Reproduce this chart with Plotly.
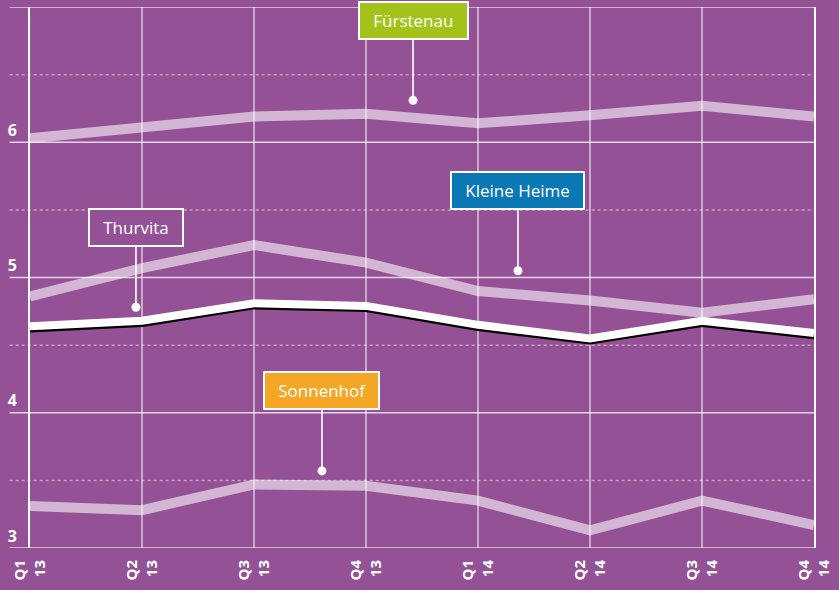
import plotly.graph_objects as go

quarters = ["Q1<br>13", "Q2<br>13", "Q3<br>13", "Q4<br>13", "Q1<br>14", "Q2<br>14", "Q3<br>14", "Q4<br>14"]
fuerstenau = [6.03, 6.11, 6.19, 6.21, 6.14, 6.20, 6.27, 6.19]
kleine_heime = [4.86, 5.07, 5.24, 5.11, 4.90, 4.83, 4.74, 4.84]
thurvita = [4.64, 4.68, 4.81, 4.79, 4.65, 4.55, 4.68, 4.59]
sonnenhof = [3.31, 3.28, 3.47, 3.46, 3.35, 3.13, 3.35, 3.17]
y_ticks = [3, 4, 5, 6]

# label: (text, box colour, anchor x index, anchor y value)
labels = [
    ("Fürstenau", "#a3c31b", 3.42, 6.31),
    ("Kleine Heime", "#0a78b5", 4.357, 5.05),
    ("Thurvita", "#955196", 0.946, 4.78),
    ("Sonnenhof", "#f4a624", 2.607, 3.57),
]

BG = "#955196"
LIGHT = "rgba(255,255,255,0.58)"
x = list(range(len(quarters)))

fig = go.Figure()
for vals in (fuerstenau, kleine_heime, sonnenhof):
    fig.add_trace(go.Scatter(x=x, y=vals, mode="lines",
                             line=dict(color=LIGHT, width=10), hoverinfo="skip"))
# shadow of Thurvita line on offset axis
fig.add_trace(go.Scatter(x=x, y=thurvita, mode="lines", yaxis="y2",
                         line=dict(color="black", width=7), hoverinfo="skip"))
fig.add_trace(go.Scatter(x=x, y=thurvita, mode="lines", yaxis="y3",
                         line=dict(color="white", width=8), hoverinfo="skip"))

shapes = []
for v in [3, 4, 5, 6, 7]:
    shapes.append(dict(type="line", xref="paper", x0=-0.026, x1=1, yref="y", y0=v, y1=v,
                       line=dict(color="rgba(255,255,255,0.75)", width=1.5), layer="below"))
for v in [3.5, 4.5, 5.5, 6.5]:
    shapes.append(dict(type="line", xref="paper", x0=-0.026, x1=1, yref="y", y0=v, y1=v,
                       line=dict(color="rgba(255,255,255,0.45)", width=1.5, dash="dot"), layer="below"))

annotations = []
for text, col, ax_, ay_ in labels:
    annotations.append(dict(
        x=ax_, y=ay_, xref="x", yref="y",
        text="&nbsp;&#8201;" + text + "&#8201;&nbsp;", showarrow=True,
        ax=0, ay=-80, arrowhead=6, arrowsize=1.4, arrowwidth=1.6, arrowcolor="white",
        bgcolor=col, bordercolor="white", borderwidth=2, borderpad=6,
        font=dict(family="Open Sans", size=17, color="white"),
    ))

fig.update_layout(
    width=839, height=590,
    margin=dict(l=30, r=25, t=7, b=42),
    paper_bgcolor=BG, plot_bgcolor=BG,
    showlegend=False,
    shapes=shapes,
    annotations=annotations,
    xaxis=dict(range=[0, 7], tickvals=x, ticktext=quarters, tickangle=-90,
               showgrid=True, gridcolor="rgba(255,255,255,0.5)", gridwidth=1.5,
               zeroline=False, showline=False, ticks="", ticklabelstandoff=8,
               tickfont=dict(family="Open Sans", size=15, color="white", weight="bold")),
    yaxis=dict(range=[3, 7], tickvals=y_ticks, ticktext=[str(t) for t in y_ticks],
               showgrid=False, zeroline=False, showline=True, mirror=True,
               linecolor="white", linewidth=2, ticks="",
               ticklabelshift=-12, ticklabelstandoff=8,
               tickfont=dict(family="Open Sans", size=16, color="white", weight="bold")),
    yaxis2=dict(range=[3 + 0.02, 7 + 0.02], overlaying="y", visible=False),
    yaxis3=dict(range=[3, 7], overlaying="y", visible=False),
)

fig.write_html("out.html")
